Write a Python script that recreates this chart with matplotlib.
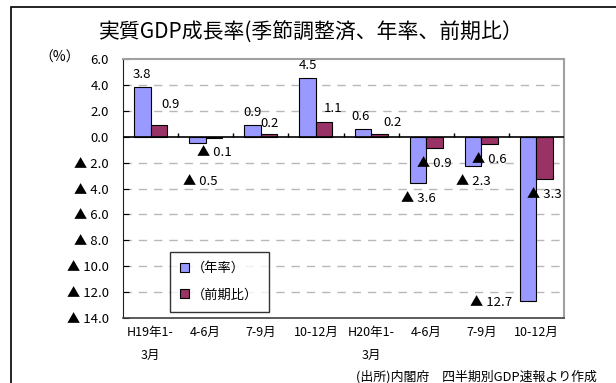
import numpy as np
import matplotlib
matplotlib.use("Agg")
import matplotlib.pyplot as plt
from matplotlib.patches import Rectangle

plt.rcParams['font.family'] = ['Noto Sans CJK JP', 'DejaVu Sans']

quarters = ["H19年1-\n3月", "4-6月", "7-9月", "10-12月",
            "H20年1-\n3月", "4-6月", "7-9月", "10-12月"]
annual = [3.8, -0.5, 0.9, 4.5, 0.6, -3.6, -2.3, -12.7]
qoq = [0.9, -0.1, 0.2, 1.1, 0.2, -0.9, -0.6, -3.3]

# label nudges in pixels (dx, dy) from the end of each bar
annual_off = [(0, 13), (3, -38), (0, 13), (0, 13), (-2, 12), (0, -15), (0, -15), (-37, -1)]
qoq_off = [(12, 21), (0, -15), (0, 11), (9, 14), (13, 12), (0, -15), (0, -15), (0, -15)]

blue = '#9999ff'
purple = '#993366'


def fmt(v):
    return f"{v:.1f}" if v >= 0 else f"▲ {abs(v):.1f}"


fig = plt.figure(figsize=(6.16, 3.83), dpi=100)
fig.patches.append(Rectangle((11 / 616, -0.1), 1.2, 1 - 7 / 383 + 0.1,
                             transform=fig.transFigure, fill=False,
                             edgecolor='black', lw=1.2))

ax = fig.add_axes([123 / 616, 1 - 318 / 383, 441 / 616, 259 / 383])
x = np.arange(len(quarters))
w = 0.3
b1 = ax.bar(x - w / 2, annual, w, color=blue, edgecolor='black', lw=0.8,
            label='（年率）', zorder=3)
b2 = ax.bar(x + w / 2, qoq, w, color=purple, edgecolor='black', lw=0.8,
            label='（前期比）', zorder=3)

for bars, vals, offs in ((b1, annual, annual_off), (b2, qoq, qoq_off)):
    for r, v, (dx, dy) in zip(bars, vals, offs):
        ax.annotate(fmt(v), (r.get_x() + r.get_width() / 2, v),
                    xytext=(dx, dy), textcoords='offset pixels',
                    ha='center', va='center', fontsize=9.5)

ax.set_xlim(-0.5, len(quarters) - 0.5)
ax.set_ylim(-14, 6)
yt = np.arange(-14, 7, 2)
ax.set_yticks(yt)
ax.set_yticklabels([fmt(v) for v in yt], fontsize=9.5)
ax.tick_params(axis='y', direction='in', length=4, pad=10)
ax.set_xticks(x)
ax.set_xticklabels(quarters, fontsize=9, linespacing=2.0, va='top')
ax.tick_params(axis='x', length=0, pad=6)

for yv in yt[1:-1]:
    if yv != 0:
        ax.axhline(yv, color='#b8b8b8', lw=1, ls=(0, (6, 5)), zorder=1)
ax.axhline(0, color='black', lw=1.2, zorder=4)
ax.plot(x[:-1] + 0.5, np.zeros(len(x) - 1), ls='none', marker=2,
        markersize=3, color='black', mew=1, zorder=4)

ax.spines['top'].set_color('#a0a0a0')
ax.spines['right'].set_color('#a0a0a0')
ax.spines['top'].set_linewidth(1.5)
ax.spines['right'].set_linewidth(1.5)
ax.spines['left'].set_color('#202020')
ax.spines['bottom'].set_color('#404040')
ax.spines['bottom'].set_linewidth(1.2)

leg = ax.legend(loc='upper left', bbox_to_anchor=(40 / 441, (318 - 245) / 259),
                frameon=True, fancybox=False, edgecolor='black', fontsize=9.5,
                handlelength=0.7, handleheight=0.7, handletextpad=0.2,
                labelspacing=1.0, borderpad=0.8)
leg.get_frame().set_linewidth(1)

fig.text(311 / 616, 1 - 33 / 383, "実質GDP成長率(季節調整済、年率、前期比）",
         ha='center', va='center', fontsize=15)
fig.text(60 / 616, 1 - 58 / 383, "（%）", ha='center', va='center', fontsize=10)
fig.text(597 / 616, 1 - 377 / 383, "(出所)内閣府　四半期別GDP速報より作成",
         ha='right', va='center', fontsize=9.3)

fig.savefig("out.png", dpi=100)
